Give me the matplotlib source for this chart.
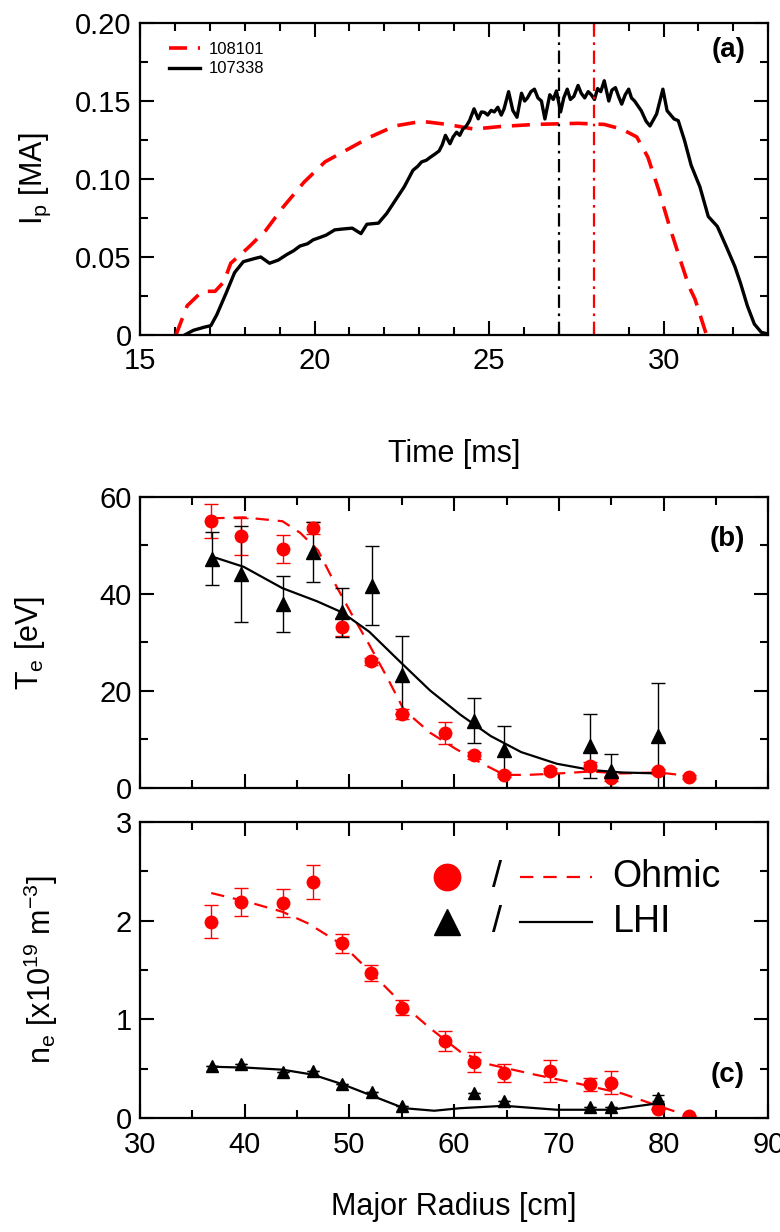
"""Plasma current traces and Te / ne radial profiles (Ohmic vs LHI)"""

import matplotlib
matplotlib.use("Agg")
import matplotlib.pyplot as plt
from matplotlib.ticker import MultipleLocator, FuncFormatter

# ---- panel (a): plasma current traces ----
t_108101 = [16.03, 16.35, 16.78, 17.15, 17.4, 17.6, 18.1, 18.6, 19.1, 19.7, 20.3,
            20.95, 21.6, 22.3, 23.07, 23.8, 24.57, 25.3, 26.3, 27.55, 28.3, 28.8,
            29.23, 29.55, 29.86, 30.17, 30.48, 30.73, 30.9, 31.23]
ip_108101 = [0.0, 0.0187, 0.028, 0.028, 0.034, 0.046, 0.056, 0.067, 0.082, 0.098,
             0.111, 0.119, 0.127, 0.134, 0.137, 0.135, 0.132, 0.1336, 0.135, 0.1357,
             0.135, 0.132, 0.127, 0.114, 0.093, 0.0696, 0.048, 0.031, 0.023, 0.0]

t_107338 = [16.28, 16.53, 16.84, 17.03, 17.2, 17.47, 17.71, 17.96, 18.28, 18.46,
            18.71, 18.96, 19.2, 19.4, 19.58, 19.8, 19.96, 20.15, 20.33, 20.58,
            20.83, 21.08, 21.33, 21.5, 21.83, 22.07, 22.32, 22.57, 22.82, 22.95,
            23.07, 23.2, 23.32, 23.45, 23.57, 23.66, 23.75, 23.88, 23.97, 24.07,
            24.16, 24.25, 24.35, 24.44, 24.57, 24.69, 24.78, 24.87, 24.96, 25.06,
            25.15, 25.25, 25.35, 25.43, 25.56, 25.68, 25.8, 25.93, 26.02, 26.1,
            26.2, 26.3, 26.4, 26.5, 26.6, 26.74, 26.84, 26.93, 27.05, 27.14,
            27.24, 27.33, 27.43, 27.55, 27.64, 27.74, 27.84, 27.93, 28.02, 28.11,
            28.2, 28.3, 28.43, 28.52, 28.62, 28.71, 28.8, 28.9, 29.0, 29.08,
            29.17, 29.36, 29.5, 29.61, 29.8, 29.98, 30.1, 30.3, 30.42, 30.6,
            30.79, 31.04, 31.28, 31.54, 31.79, 32.04, 32.2, 32.4, 32.6, 32.8, 33.0]
ip_107338 = [0.0, 0.003, 0.005, 0.006, 0.013, 0.027, 0.040, 0.047, 0.049, 0.050,
             0.046, 0.048, 0.0515, 0.054, 0.057, 0.0585, 0.061, 0.0625, 0.064, 0.0674,
             0.068, 0.0685, 0.065, 0.071, 0.0717, 0.078, 0.0865, 0.095, 0.1056, 0.108,
             0.111, 0.112, 0.114, 0.116, 0.118, 0.122, 0.128, 0.1226, 0.127, 0.130,
             0.128, 0.132, 0.134, 0.1374, 0.145, 0.1386, 0.143, 0.1427, 0.141, 0.144,
             0.143, 0.146, 0.141, 0.145, 0.156, 0.144, 0.1396, 0.155, 0.150, 0.152,
             0.156, 0.1576, 0.152, 0.150, 0.1385, 0.154, 0.151, 0.1565, 0.143, 0.152,
             0.1576, 0.151, 0.153, 0.160, 0.155, 0.152, 0.156, 0.154, 0.151, 0.158,
             0.156, 0.163, 0.150, 0.157, 0.1586, 0.153, 0.148, 0.154, 0.1576, 0.152,
             0.150, 0.1438, 0.137, 0.134, 0.1417, 0.1576, 0.1438, 0.1385, 0.1374, 0.1247,
             0.1088, 0.095, 0.076, 0.0696, 0.057, 0.044, 0.0335, 0.0187, 0.007, 0.0017, 0.0006]

t_mark_108101 = 28.0
t_mark_107338 = 27.0

# ---- panels (b) and (c): radial profiles ----
r_ohm = [36.8, 39.6, 43.7, 46.5, 49.3, 52.1, 55.0, 59.1, 61.9, 64.8, 69.2, 73.0, 75.0, 79.5, 82.4]
te_ohm = [55.0, 51.9, 49.3, 53.6, 33.2, 26.1, 15.3, 11.4, 6.7, 2.7, 3.5, 4.5, 2.0, 3.4, 2.3]
te_ohm_err = [3.5, 3.8, 2.9, 1.3, 1.8, 0.8, 1.0, 2.3, 0.8, 0.5, 0.6, 0.8, 0.5, 0.5, 0.4]
ne_ohm = [1.99, 2.19, 2.18, 2.39, 1.77, 1.47, 1.12, 0.78, 0.565, 0.46, 0.48, 0.34, 0.36, 0.094, 0.017]
ne_ohm_err = [0.17, 0.14, 0.14, 0.17, 0.10, 0.08, 0.08, 0.10, 0.10, 0.09, 0.11, 0.07, 0.12, 0.0, 0.0]

r_lhi = [36.9, 39.6, 43.7, 46.5, 49.3, 52.2, 55.0, 61.9, 64.8, 73.0, 75.0, 79.5]
te_lhi = [47.3, 44.2, 37.9, 48.6, 36.2, 41.7, 23.3, 13.9, 7.8, 8.7, 3.6, 10.7]
te_lhi_err = [5.5, 9.9, 5.8, 6.2, 5.0, 8.1, 8.0, 4.7, 4.9, 6.6, 3.4, 10.9]
ne_lhi = [0.53, 0.55, 0.47, 0.48, 0.34, 0.26, 0.125, 0.25, 0.17, 0.11, 0.11, 0.20]
ne_lhi_err = [0, 0, 0, 0, 0, 0, 0, 0, 0, 0, 0, 0.03]

# smooth fits drawn through the profiles
r_fit_te_ohm = [36.8, 39.9, 43.6, 45.3, 47.0, 48.6, 50.3, 51.9, 53.6, 55.2, 57.7, 60.2,
                62.7, 64.8, 67.0, 70.0, 73.0, 76.0, 79.5, 82.4]
te_fit_ohm = [55.6, 55.8, 55.0, 52.6, 49.0, 42.2, 35.5, 29.5, 22.8, 16.1, 11.4, 8.0,
              5.0, 2.7, 2.7, 3.0, 3.4, 3.0, 3.2, 2.5]
r_fit_te_lhi = [36.9, 39.9, 43.6, 46.9, 49.3, 51.9, 54.8, 57.7, 60.6, 63.5, 66.4, 69.8,
                73.1, 76.0, 79.5]
te_fit_lhi = [47.7, 45.6, 41.2, 38.5, 36.2, 32.2, 26.1, 20.1, 15.1, 10.7, 7.4, 5.0,
              3.7, 3.2, 3.0]
r_fit_ne_ohm = [36.8, 40.3, 43.6, 46.1, 49.4, 52.3, 55.2, 57.7, 60.6, 63.5, 67.7, 71.8,
                76.0, 79.3, 82.4]
ne_fit_ohm = [2.28, 2.19, 2.09, 1.97, 1.75, 1.45, 1.14, 0.91, 0.67, 0.54, 0.44, 0.35,
              0.25, 0.13, 0.02]
r_fit_ne_lhi = [36.9, 40.3, 43.6, 46.5, 49.4, 52.3, 55.2, 58.1, 60.6, 64.8, 69.8, 75.0, 79.5]
ne_fit_lhi = [0.52, 0.51, 0.49, 0.44, 0.34, 0.22, 0.10, 0.074, 0.10, 0.124, 0.084, 0.084, 0.15]

RED = "#ff0000"

plt.rcParams["font.family"] = ["Liberation Sans", "DejaVu Sans"]
plt.rcParams["mathtext.default"] = "regular"
plt.rcParams["font.size"] = 22


def style_axes(ax, xmaj, xmin, ymaj, ymin):
    ax.xaxis.set_major_locator(MultipleLocator(xmaj))
    ax.xaxis.set_minor_locator(MultipleLocator(xmin))
    ax.yaxis.set_major_locator(MultipleLocator(ymaj))
    ax.yaxis.set_minor_locator(MultipleLocator(ymin))
    ax.tick_params(which="both", direction="in", top=True, right=True, width=1.5)
    ax.tick_params(which="major", length=10, labelsize=21)
    ax.tick_params(axis="y", which="major", pad=6)
    ax.tick_params(axis="x", which="major", pad=9)
    ax.tick_params(which="minor", length=6)
    for sp in ax.spines.values():
        sp.set_linewidth(1.6)


fig = plt.figure(figsize=(7.8, 12.32), dpi=100)
ax_a = fig.add_axes([0.1795, 0.7281, 0.8055, 0.2532])
ax_b = fig.add_axes([0.1795, 0.3604, 0.8055, 0.2362])
ax_c = fig.add_axes([0.1795, 0.0925, 0.8055, 0.2403])

# (a)
ax_a.plot(t_108101, ip_108101, color=RED, lw=2.6, dashes=(5, 3), label="108101")
ax_a.plot(t_107338, ip_107338, color="black", lw=2.4, label="107338")
ax_a.axvline(t_mark_107338, color="black", lw=1.6, dashes=(6, 2.5, 1.2, 2.5))
ax_a.axvline(t_mark_108101, color=RED, lw=1.6, dashes=(6, 2.5, 1.2, 2.5))
ax_a.set_xlim(15, 33)
ax_a.set_ylim(0, 0.2)
style_axes(ax_a, 5, 1, 0.05, 0.025)
ax_a.yaxis.set_major_formatter(FuncFormatter(lambda v, p: "0" if v == 0 else f"{v:.2f}"))
ax_a.set_xlabel("Time [ms]", labelpad=46)
ax_a.set_ylabel("I$_p$ [MA]", labelpad=16)
ax_a.legend(loc="upper left", fontsize=12, frameon=False, handlelength=1.9,
            handletextpad=0.5, borderaxespad=0.0, labelspacing=0.25,
            bbox_to_anchor=(0.035, 0.96))
ax_a.text(0.963, 0.955, "(a)", transform=ax_a.transAxes, ha="right", va="top",
          fontsize=20, fontweight="bold")

# (b)
ax_b.plot(r_fit_te_ohm, te_fit_ohm, color=RED, lw=1.6, dashes=(6, 4))
ax_b.plot(r_fit_te_lhi, te_fit_lhi, color="black", lw=1.6)
ax_b.errorbar(r_ohm, te_ohm, yerr=te_ohm_err, fmt="o", color=RED, ms=9,
              elinewidth=1, capsize=5, capthick=1)
ax_b.errorbar(r_lhi, te_lhi, yerr=te_lhi_err, fmt="^", color="black", ms=10,
              elinewidth=1, capsize=5, capthick=1)
ax_b.set_xlim(30, 90)
ax_b.set_ylim(0, 60)
style_axes(ax_b, 10, 5, 20, 10)
ax_b.tick_params(labelbottom=False)
ax_b.set_ylabel("T$_e$ [eV]", labelpad=38)
ax_b.text(0.963, 0.9, "(b)", transform=ax_b.transAxes, ha="right", va="top",
          fontsize=20, fontweight="bold")

# (c)
ax_c.plot(r_fit_ne_ohm, ne_fit_ohm, color=RED, lw=1.6, dashes=(6, 4))
ax_c.plot(r_fit_ne_lhi, ne_fit_lhi, color="black", lw=1.6)
ax_c.errorbar(r_ohm, ne_ohm, yerr=ne_ohm_err, fmt="o", color=RED, ms=9,
              elinewidth=1, capsize=5, capthick=1)
ax_c.errorbar(r_lhi, ne_lhi, yerr=ne_lhi_err, fmt="^", color="black", ms=8,
              elinewidth=1, capsize=4, capthick=1)
ax_c.set_xlim(30, 90)
ax_c.set_ylim(0, 3)
style_axes(ax_c, 10, 5, 1, 0.5)
ax_c.set_xlabel("Major Radius [cm]", labelpad=24)
ax_c.set_ylabel("n$_e$ [x10$^{19}$ m$^{-3}$]", labelpad=40)
ax_c.text(0.963, 0.19, "(c)", transform=ax_c.transAxes, ha="right", va="top",
          fontsize=20, fontweight="bold")

# hand-made legend in (c)
tr = ax_c.transAxes
ax_c.plot([0.489], [0.814], "o", color=RED, ms=19, transform=tr)
ax_c.plot([0.489], [0.662], "^", color="black", ms=19, transform=tr)
ax_c.text(0.568, 0.814, "/", transform=tr, ha="center", va="center", fontsize=26)
ax_c.text(0.568, 0.662, "/", transform=tr, ha="center", va="center", fontsize=26)
ax_c.plot([0.605, 0.72], [0.814, 0.814], color=RED, lw=1.6, dashes=(6, 4.5), transform=tr)
ax_c.plot([0.605, 0.72], [0.662, 0.662], color="black", lw=1.6, transform=tr)
ax_c.text(0.752, 0.814, "Ohmic", transform=tr, ha="left", va="center", fontsize=27)
ax_c.text(0.752, 0.662, "LHI", transform=tr, ha="left", va="center", fontsize=27)

fig.savefig("out.png", dpi=100)
